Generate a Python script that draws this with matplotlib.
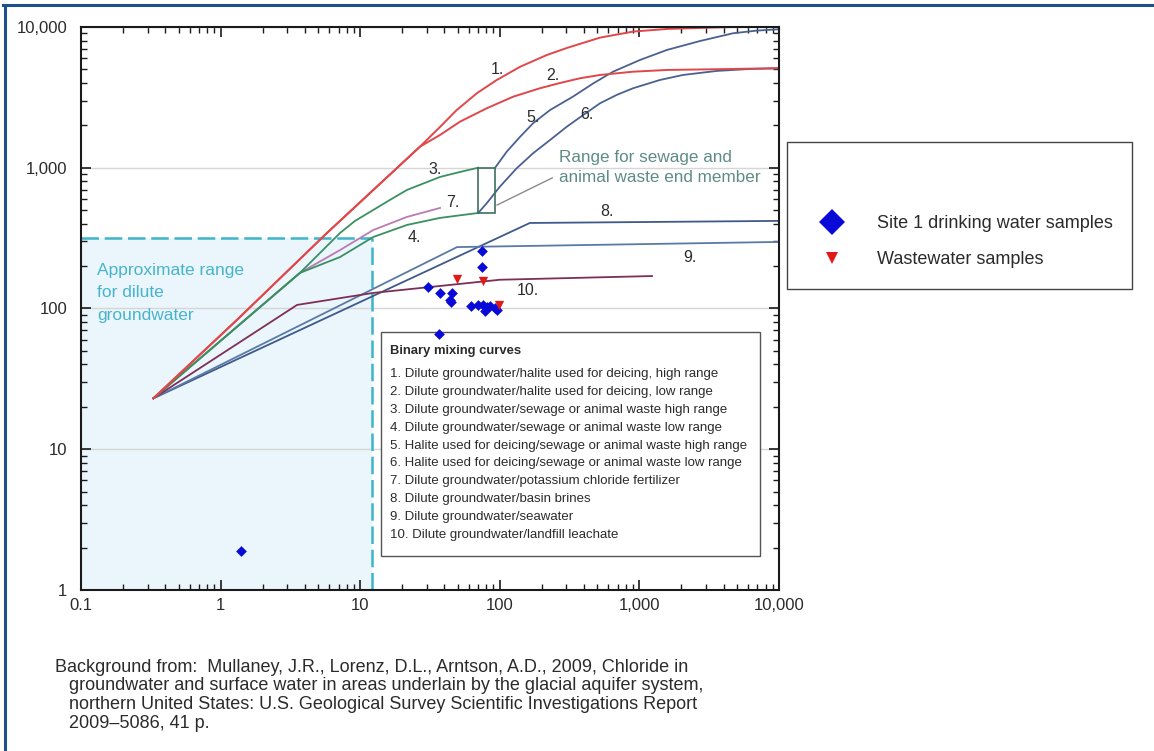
import matplotlib
matplotlib.use('Agg')
import matplotlib.pyplot as plt
from matplotlib.patches import Rectangle
from matplotlib.lines import Line2D
from matplotlib.ticker import LogLocator, FuncFormatter, NullFormatter

plt.rcParams['font.family'] = ['Liberation Sans', 'DejaVu Sans']

# binary mixing curves (x, y)
c1_x = [0.33, 1.31, 5.78, 26.8, 37.3, 49.1, 68.4, 95, 140, 217, 303, 522, 900, 1577, 4680, 10000]
c1_y = [23, 83, 344, 1412, 1950, 2570, 3380, 4200, 5220, 6320, 7100, 8400, 9270, 9680, 10000, 10000]
c2_x = [0.33, 1.31, 5.78, 26.8, 37.3, 51.9, 80.5, 125, 194, 270, 375, 522, 900, 1577, 4680, 10000]
c2_y = [23, 83, 344, 1412, 1709, 2125, 2643, 3200, 3670, 4000, 4320, 4560, 4810, 4950, 5030, 5100]
c3_x = [0.33, 3.7, 7.17, 9.18, 12.4, 16.3, 21.6, 37.3, 51.9, 70]
c3_y = [23, 179, 344, 419, 501, 590, 695, 860, 933, 1000]
c4_x = [0.33, 3.7, 7.17, 12.4, 21.6, 37.3, 70]
c4_y = [23, 179, 232, 322, 392, 440, 477]
c5_x = [92.5, 112, 140, 173, 229, 334, 468, 647, 1010, 1577, 2720, 4680, 6920, 10000]
c5_y = [1000, 1300, 1663, 2070, 2570, 3200, 3980, 4810, 5830, 6870, 7950, 9020, 9420, 9630]
c6_x = [70, 80.5, 100, 132, 173, 229, 302, 396, 522, 687, 900, 1400, 2050, 3580, 6190, 10000]
c6_y = [477, 559, 733, 991, 1267, 1574, 1958, 2370, 2870, 3290, 3670, 4200, 4560, 4870, 5030, 5080]
c7_x = [0.33, 3.7, 7.17, 12.4, 21.6, 37.3]
c7_y = [23, 179, 260, 361, 447, 518]
c8_x = [0.33, 164, 10000]
c8_y = [23, 405, 419]
c9_x = [0.33, 49.4, 10000]
c9_y = [23, 273, 297]
c10_x = [0.33, 3.53, 12.4, 19.3, 100, 1230]
c10_y = [23, 106, 129, 135, 160, 170]

# sewage / animal waste end member box and dilute groundwater range
em_x = [70, 92.5]
em_y = [477, 1000]
dilute_x = [0.1, 12.2]
dilute_y = [1, 317]

# samples
site1_x = [30.5, 37.3, 45.2, 44, 45, 75, 74.5, 62.2, 76.2, 80.5, 85, 92.4, 78.3, 95, 70, 36.7, 1.40]
site1_y = [143, 129, 128, 115, 112, 256, 198, 104, 106, 103, 104, 101, 96.4, 97.5, 106, 65.9, 1.89]
waste_x = [49.5, 75.8, 98.7]
waste_y = [161, 157, 105]

curve_names = [
    '1. Dilute groundwater/halite used for deicing, high range',
    '2. Dilute groundwater/halite used for deicing, low range',
    '3. Dilute groundwater/sewage or animal waste high range',
    '4. Dilute groundwater/sewage or animal waste low range',
    '5. Halite used for deicing/sewage or animal waste high range',
    '6. Halite used for deicing/sewage or animal waste low range',
    '7. Dilute groundwater/potassium chloride fertilizer',
    '8. Dilute groundwater/basin brines',
    '9. Dilute groundwater/seawater',
    '10. Dilute groundwater/landfill leachate',
]

red = '#e0474a'
green = '#3b9062'
blue = '#4a6190'
cyan = '#3db4c9'
txt = '#2b2b2b'

fig = plt.figure(figsize=(11.54, 7.51), dpi=100)
ax = fig.add_axes([0.0702, 0.2144, 0.6049, 0.7497])
ax.set_xscale('log')
ax.set_yscale('log')
ax.set_xlim(0.1, 10000)
ax.set_ylim(1, 10000)

# dilute groundwater region
ax.fill_between(dilute_x, dilute_y[0], dilute_y[1], color='#eaf5fc', lw=0, zorder=0)
ax.plot(dilute_x, [dilute_y[1], dilute_y[1]], color=cyan, lw=1.8, ls=(0, (7, 2.3)), zorder=2)
ax.plot([dilute_x[1], dilute_x[1]], dilute_y, color=cyan, lw=1.8, ls=(0, (7, 2.3)), zorder=2)

ax.grid(True, which='major', axis='y', color='#d6d6d6', lw=1)
ax.set_axisbelow(True)

ax.plot(c8_x, c8_y, color='#3f5a88', lw=1.3)
ax.plot(c9_x, c9_y, color='#5a7aa6', lw=1.3)
ax.plot(c10_x, c10_y, color='#7d2f55', lw=1.3)
ax.plot(c7_x, c7_y, color='#bb7ab4', lw=1.3)
ax.plot(c4_x, c4_y, color=green, lw=1.3)
ax.plot(c3_x, c3_y, color=green, lw=1.3)
ax.plot(c5_x, c5_y, color=blue, lw=1.3)
ax.plot(c6_x, c6_y, color=blue, lw=1.3)
ax.plot(c2_x, c2_y, color=red, lw=1.4)
ax.plot(c1_x, c1_y, color=red, lw=1.4)

ax.add_patch(Rectangle((em_x[0], em_y[0]), em_x[1] - em_x[0], em_y[1] - em_y[0],
                       fill=False, ec='#3f6e60', lw=1.2, zorder=3))
ax.plot([95.5, 237], [543, 846], color='#8a8a8a', lw=1)
ax.text(266, 1000, 'Range for sewage and\nanimal waste end member', color='#5e8c84',
        fontsize=12.3, va='center', ha='left', linespacing=1.42)
ax.text(0.13, 129, 'Approximate range\nfor dilute\ngroundwater', color='#48b4cc',
        fontsize=12.5, va='center', ha='left', linespacing=1.6)

# curve number labels
lab_pos = [('1.', 95.5, 4950), ('2.', 240, 4490), ('3.', 34.3, 964), ('4.', 24.3, 317),
           ('5.', 173, 2290), ('6.', 421, 2370), ('7.', 46.2, 562), ('8.', 586, 485),
           ('9.', 2300, 232), ('10.', 159, 135)]
for s, x, y in lab_pos:
    ax.text(x, y, s, fontsize=11.5, color=txt, ha='center', va='center')

# legend box for the curves
ax.add_patch(Rectangle((0.4298, 0.0604), 0.543, 0.398, transform=ax.transAxes,
                       fc='white', ec='#555555', lw=1, zorder=4))
ax.text(0.4427, 0.4245, 'Binary mixing curves', transform=ax.transAxes, fontsize=9.4,
        fontweight='bold', color=txt, va='center', zorder=5)
for i, name in enumerate(curve_names):
    ypx = 374 + i * 17.9
    ax.text(0.4427, (590 - ypx) / 563, name, transform=ax.transAxes, fontsize=9.5,
            color=txt, va='center', zorder=5)

ax.scatter(site1_x, site1_y, marker='D', s=30, color='#0a0ad8', lw=0, zorder=6)
ax.scatter(waste_x, waste_y, marker='v', s=45, color='#e01818', lw=0, zorder=6)

# axes styling
for sp in ax.spines.values():
    sp.set_linewidth(1.5)
    sp.set_color('#1a1a1a')
ax.xaxis.set_major_locator(LogLocator(base=10, numticks=10))
ax.yaxis.set_major_locator(LogLocator(base=10, numticks=10))
ax.xaxis.set_minor_locator(LogLocator(base=10, subs=range(2, 10), numticks=10))
ax.yaxis.set_minor_locator(LogLocator(base=10, subs=range(2, 10), numticks=10))
fmt = FuncFormatter(lambda v, p: f'{v:,.0f}' if v >= 1 else f'{v:g}')
ax.xaxis.set_major_formatter(fmt)
ax.yaxis.set_major_formatter(fmt)
ax.xaxis.set_minor_formatter(NullFormatter())
ax.yaxis.set_minor_formatter(NullFormatter())
ax.tick_params(which='both', direction='in', top=True, right=True, colors='#1a1a1a',
               labelcolor=txt, labelsize=12)
ax.tick_params(which='major', length=7, width=1.2)
ax.tick_params(which='minor', length=4, width=1)
ax.tick_params(axis='x', pad=6)
ax.tick_params(axis='y', pad=10)

# sample legend on the right
fig.patches.append(Rectangle((0.682, 0.6152), 0.299, 0.1957, transform=fig.transFigure,
                             fill=False, ec='#444444', lw=1))
handles = [Line2D([], [], ls='', marker='D', ms=13, color='#0a0ad8', mew=0),
           Line2D([], [], ls='', marker='v', ms=9, color='#e01818', mew=0)]
fig.legend(handles, ['Site 1 drinking water samples', 'Wastewater samples'],
           loc='center left', bbox_to_anchor=(0.6976, 0.6778), frameon=False,
           fontsize=13, borderpad=0, handlelength=2.0, handletextpad=1.5,
           labelspacing=1.05, labelcolor=txt)

# source note
fig.text(55 / 1154, 1 - 667 / 751,
         'Background from:  Mullaney, J.R., Lorenz, D.L., Arntson, A.D., 2009, Chloride in',
         fontsize=13, color=txt, va='center')
notes = ['groundwater and surface water in areas underlain by the glacial aquifer system,',
         'northern United States: U.S. Geological Survey Scientific Investigations Report',
         '2009\u20135086, 41 p.']
for i, s in enumerate(notes):
    fig.text(69 / 1154, 1 - (686 + i * 18.7) / 751, s, fontsize=13, color=txt, va='center')

# frame lines at top and left of the picture
fig.add_artist(Line2D([0.003, 1.0], [0.9935, 0.9935], transform=fig.transFigure,
                      color='#1f4f8b', lw=2.2))
fig.add_artist(Line2D([0.0043, 0.0043], [0.0, 0.9935], transform=fig.transFigure,
                      color='#1f4f8b', lw=2.2))

fig.savefig('out.png', dpi=100)
